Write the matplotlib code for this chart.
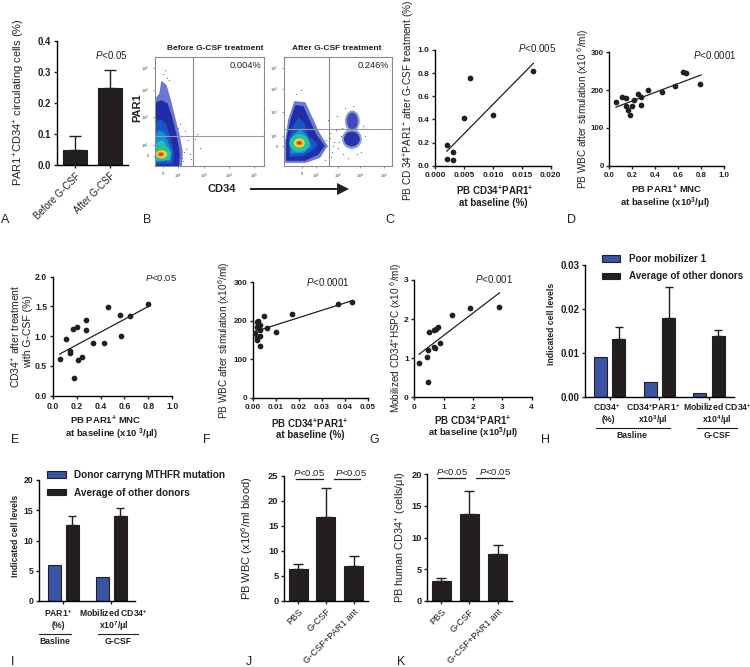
import matplotlib
matplotlib.use("Agg")
import matplotlib.pyplot as plt
from matplotlib.patches import Ellipse, Patch, Polygon
from matplotlib.lines import Line2D

plt.rcParams.update({
    'font.family': 'Liberation Sans', 'mathtext.fontset': 'custom',
    'mathtext.rm': 'Liberation Sans', 'mathtext.it': 'Liberation Sans:italic',
    'mathtext.bf': 'Liberation Sans:bold', 'mathtext.default': 'regular',
    'axes.linewidth': 1.0, 'xtick.major.width': 1.0, 'ytick.major.width': 1.0,
    'xtick.major.size': 2.5, 'ytick.major.size': 2.5, 'xtick.major.pad': 2, 'ytick.major.pad': 1.5,
})
W, H = 750, 667
BLACK, BLUE, TXT = '#231f20', '#3a53a4', '#231f20'

# ---- data ----
a_labels = ['Before G-CSF', 'After G-CSF']
a_vals = [0.05, 0.248]
a_tops = [0.093, 0.308]

c_x = [0.002, 0.002, 0.003, 0.003, 0.005, 0.006, 0.010, 0.017]
c_y = [0.18, 0.06, 0.115, 0.045, 0.415, 0.755, 0.435, 0.82]
c_fit_x, c_fit_y = [0.002, 0.017], [0.125, 0.885]

d_x = [.058, .108, .148, .142, .166, .177, .2, .212, .247, .279, .276, .334, .462, .57, .64, .672, .794]
d_y = [168, 183, 178, 159, 148, 135, 158, 174, 190, 181, 160, 199, 196, 212, 249, 244, 215]
d_fit_x, d_fit_y = [0.058, 0.8], [155, 240]

e_x = [.058, .109, .145, .148, .167, .178, .203, .212, .248, .281, .281, .334, .429, .465, .565, .574, .643, .8]
e_y = [.616, .947, .756, .717, 1.126, .297, 1.16, .6, .655, 1.266, 1.098, .88, .885, 1.496, 1.356, .997, 1.345, 1.535]
e_fit_x, e_fit_y = [0.058, 0.8], [0.7, 1.5]

f_x = [.001, .0019, .002, .002, .002, .0025, .003, .003, .003, .003, .005, .006, .01, .017, .037, .043]
f_y = [167, 196, 183, 159, 150, 199, 188, 176, 160, 135, 212, 181, 170, 217, 244, 250]
f_fit_x, f_fit_y = [0.001, 0.043], [172, 252]

g_x = [.16, .42, .455, .477, .489, .66, .67, .716, .75, .795, .875, 1.295, 1.886, 2.9]
g_y = [.87, 1.04, .38, 1.2, 1.66, 1.72, 1.29, 1.25, 1.75, 1.81, 1.4, 2.11, 2.28, 2.3]
g_fit_x, g_fit_y = [0.16, 2.9], [1.1, 2.67]

h_blue = [0.009, 0.0034, 0.001]
h_black = [0.0131, 0.018, 0.0138]
h_tops = [0.016, 0.025, 0.0152]

i_blue = [6, 4]
i_black = [12.5, 14]
i_tops = [14.1, 15.3]

jk_labels = ['PBS', 'G-CSF', 'G-CSF+PAR1 ant']
j_vals = [6.3, 16.7, 7.0]
j_tops = [7.3, 22.6, 8.9]
k_vals = [3.1, 13.8, 7.4]
k_tops = [3.7, 17.3, 8.8]

# flow density outlines (axis scale 0-109), lowest density first
flow_left_polys = [
    ('#6a78d4', [(0, 0), (26, 0), (27, 14), (24, 30), (19, 50), (15, 66), (11, 80), (7, 84), (5, 72), (0, 66)]),
    ('#1f2ea6', [(0, 0), (23, 0), (24, 12), (21, 30), (16, 50), (12, 62), (6, 65), (0, 62)]),
    ('#1a55c8', [(0, 3), (17, 3), (18, 14), (14, 30), (10, 42), (5, 46), (0, 42)]),
    ('#1090d8', [(0, 5), (15, 6), (16, 14), (12, 24), (9, 33), (4, 35), (0, 30)]),
    ('#20c0c0', [(1, 6), (14, 7), (15, 13), (10, 21), (7, 25), (3, 23), (1, 16)]),
]
flow_left_levels = [(7, 13, 14, 15, '#2fc47c'), (6.5, 11.7, 11, 8, '#e6e030'),
                    (6, 11.7, 7, 5, '#f08020'), (6, 11.7, 3.5, 2, '#e02020')]
flow_right_polys = [
    ('#6a78d4', [(2, 4), (22, 4), (36, 9), (43, 20), (35, 33), (28, 48), (21, 63), (11, 64), (5, 46), (2, 25)]),
    ('#1f2ea6', [(3, 6), (21, 6), (34, 12), (40, 20), (32, 31), (25, 46), (19, 59), (12, 60), (7, 45), (3, 25)]),
    ('#1a55c8', [(6, 10), (20, 11), (30, 17), (33, 22), (24, 30), (20, 42), (15, 47), (10, 40), (6, 28)]),
    ('#1090d8', [(8, 13), (20, 14), (27, 20), (22, 30), (17, 36), (11, 32), (8, 25)]),
]
flow_right_levels = [(69, 45, 15, 21, '#8f9be0'), (68.5, 27, 20, 20, '#8f9be0'),
                     (69, 45, 11, 17, '#3d4cb8'), (68.5, 27, 16, 15, '#2535aa'),
                     (15.5, 23, 20, 18, '#20c0c0'), (15.5, 23, 16, 13, '#2fc47c'),
                     (15.5, 23, 11, 9, '#e6e030'), (15.5, 23, 7, 5, '#f08020'), (15.5, 23, 3.5, 2.5, '#e02020')]
flow_left_x = [24, 26, 29, 33, 38, 42, 45, 27, 23, 35, 12, 8, 14, 10, 28, 31, 25, 30, 40, 36]
flow_left_y = [20, 30, 14, 26, 22, 32, 18, 8, 38, 12, 88, 92, 86, 96, 5, 17, 42, 35, 27, 7]
flow_right_x = [43, 46, 48, 50, 52, 55, 44, 47, 58, 60, 78, 80, 41, 53, 65, 76, 12, 17, 56, 49, 59, 82, 62, 70, 74, 46, 42]
flow_right_y = [20, 28, 14, 24, 36, 18, 46, 9, 30, 12, 14, 40, 6, 50, 8, 24, 72, 76, 24, 20, 38, 30, 58, 60, 12, 33, 26]
flow_left_xticks, flow_left_yticks = [8, 23, 49, 74, 99], [10, 21, 49, 76, 98]
flow_right_xticks, flow_right_yticks = [18, 32, 55, 77, 101], [20, 30, 54, 77, 98]
flow_labels = ['0', '10$^{1}$', '10$^{3}$', '10$^{4}$', '10$^{5}$']

fig = plt.figure(figsize=(W / 100, H / 100), dpi=100, facecolor='white')


def T(x, y, s, size=7.5, weight='normal', rot=0, ha='center', **kw):
    fig.text(x / W, 1 - y / H, s, fontsize=size, fontweight=weight, rotation=rot,
             ha=ha, va='center', color=TXT, **kw)


def L(x0, x1, y, lw=1.0):
    fig.add_artist(Line2D([x0 / W, x1 / W], [1 - y / H] * 2, color=TXT, lw=lw))


def AX(x0, x1, ytop, ybot):
    ax = fig.add_axes([x0 / W, 1 - ybot / H, (x1 - x0) / W, (ybot - ytop) / H])
    ax.patch.set_alpha(0)
    for s in ('top', 'right'):
        ax.spines[s].set_visible(False)
    return ax


def tick_style(ax, size=7.5):
    ax.tick_params(labelsize=size, colors=TXT)
    for t in ax.get_xticklabels() + ax.get_yticklabels():
        t.set_fontweight('bold')


def scatter_panel(rect, xs, ys, fx, fy, xlim, ylim, xt, yt, xfmt, yfmt, size=6):
    ax = AX(*rect)
    ax.plot(fx, fy, color=BLACK, lw=0.9, zorder=2)
    ax.scatter(xs, ys, s=17, color=BLACK, zorder=3, linewidths=0)
    ax.set_xlim(xlim)
    ax.set_ylim(ylim)
    ax.set_xticks(xt)
    ax.set_xticklabels([xfmt % v for v in xt])
    ax.set_yticks(yt)
    ax.set_yticklabels([yfmt % v for v in yt])
    tick_style(ax, size)
    return ax


def bars(ax, pos, vals, tops=None, color=BLACK, width=0.69, cap=3):
    ax.bar(pos, vals, width=width, color=color, edgecolor=BLACK, linewidth=0.8, zorder=2)
    if tops is not None:
        err = [[0] * len(vals), [t - v for t, v in zip(tops, vals)]]
        ax.errorbar(pos, vals, yerr=err, fmt='none', ecolor=BLACK, elinewidth=1.0,
                    capsize=cap, capthick=1.0, zorder=1)


# ---- A ----
ax = AX(57, 128, 41, 165)
bars(ax, range(2), a_vals, a_tops, cap=4)
ax.set_xlim(-.514, 1.514)
ax.set_ylim(0, 0.4)
ax.set_yticks([0, .1, .2, .3, .4])
ax.set_yticklabels(['0.0', '0.1', '0.2', '0.3', '0.4'])
ax.set_xticks(range(2))
ax.set_xticklabels(a_labels, rotation=45, ha='right', rotation_mode='anchor')
tick_style(ax, 6.9)
for t in ax.get_xticklabels():
    t.set_fontweight('normal')
T(19, 102, 'PAR1$^{+}$CD34$^{+}$ circulating cells (%)', 8, rot=90)
T(111, 55, '$\\mathit{P}$<0.05', 7)

# ---- B ----
for rect, polys, levels, px, py, gx, gy, xt, yt in [
        ((155, 264, 57, 166), flow_left_polys, flow_left_levels, flow_left_x, flow_left_y, 38, 30,
         flow_left_xticks, flow_left_yticks),
        ((284, 392, 57, 166), flow_right_polys, flow_right_levels, flow_right_x, flow_right_y, 45, 37,
         flow_right_xticks, flow_right_yticks)]:
    ax = fig.add_axes([rect[0] / W, 1 - rect[3] / H, (rect[1] - rect[0]) / W, (rect[3] - rect[2]) / H])
    ax.set_xlim(0, 109)
    ax.set_ylim(0, 109)
    for col, pts in polys:
        ax.add_patch(Polygon(pts, closed=True, fc=col, ec=col, lw=1.2, joinstyle='round'))
    for cx, cy, w, h, col in levels:
        ax.add_patch(Ellipse((cx, cy), w, h, color=col, lw=0))
    ax.scatter(px, py, s=0.9, color='#6a78d0', linewidths=0)
    ax.axvline(gx, color='#8a8a8a', lw=0.8)
    ax.axhline(gy, color='#9a9a9a', lw=0.8)
    for s in ax.spines.values():
        s.set_color('#8a8a8a')
        s.set_linewidth(0.8)
    ax.set_xticks(xt)
    ax.set_xticklabels(flow_labels)
    ax.set_yticks(yt)
    ax.set_yticklabels(flow_labels)
    ax.tick_params(labelsize=3, length=1.5, width=0.4, pad=2.5, colors='#444444')
T(215, 48, 'Before G-CSF treatment', 6, 'bold')
T(337, 48, 'After G-CSF treatment', 6, 'bold')
T(261, 66, '0.004%', 6.7, ha='right')
T(389, 66, '0.246%', 6.7, ha='right')
T(137, 108, 'PAR1', 8, 'bold', rot=90)
T(222, 189, 'CD34', 8, 'bold')
fig.add_artist(Line2D([251 / W, 340 / W], [1 - 189 / H] * 2, color=BLACK, lw=1.4))
fig.add_artist(Line2D([343 / W], [1 - 189 / H], marker='>', ms=9, color=BLACK, mew=0))

# ---- C ----
scatter_panel((435.3, 550.7, 50, 165.7), c_x, c_y, c_fit_x, c_fit_y, (0, .02), (0, 1),
              [0, .005, .01, .015, .02], [0, .2, .4, .6, .8, 1], '%.3f', '%.1f', 6)
T(409, 100, 'PB CD 34$^{+}$PAR1$^{+}$ after G-CSF treatment (%)', 7.2, rot=90)
T(537, 48, '$\\mathit{P}$<0.005', 7)
T(495, 190, 'PB CD34$^{+}$PAR1$^{+}$', 7, 'bold')
T(493, 203, 'at baseline (%)', 7, 'bold')

# ---- D ----
scatter_panel((609.3, 724, 52.3, 165.7), d_x, d_y, d_fit_x, d_fit_y, (0, 1), (0, 300),
              [0, .2, .4, .6, .8, 1], [0, 100, 200, 300], '%.1f', '%d', 5.7)
T(583, 109, 'PB WBC after stimulation (x10 $^{6}$/ml)', 7.2, rot=90)
T(715, 55, '$\\mathit{P}$<0.0001', 7)
T(667, 189, 'PB PAR1$^{+}$ MNC', 6.8, 'bold')
T(665, 203, 'at baseline (x10$^{3}$/μl)', 6.8, 'bold')

# ---- E ----
scatter_panel((52.7, 172.3, 276.7, 395.7), e_x, e_y, e_fit_x, e_fit_y, (0, 1), (0, 2),
              [0, .2, .4, .6, .8, 1], [0, .5, 1, 1.5, 2], '%.1f', '%.1f', 6.2)
T(16, 336, 'CD34$^{+}$ after treatment', 7.5, rot=90)
T(28, 332, 'with G-CSF (%)', 7.5, rot=90)
T(161, 278, '$\\mathit{P}$<0.05', 6.8)
T(106, 420, 'PB PAR1$^{+}$ MNC', 6.8, 'bold')
T(112, 434, 'at baseline (x10 $^{3}$/μl)', 6.8, 'bold')

# ---- F ----
scatter_panel((252.7, 368, 282.3, 397.7), f_x, f_y, f_fit_x, f_fit_y, (0, .05), (0, 300),
              [0, .01, .02, .03, .04, .05], [0, 100, 200, 300], '%.2f', '%d', 5.8)
T(224, 340, 'PB WBC after stimulation (x10$^{6}$/ml)', 7.2, rot=90)
T(328, 282, '$\\mathit{P}$<0.0001', 7)
T(310, 423, 'PB CD34$^{+}$PAR1$^{+}$', 7, 'bold')
T(310, 435, 'at baseline (%)', 7, 'bold')

# ---- G ----
scatter_panel((414.3, 531.7, 280, 397.3), g_x, g_y, g_fit_x, g_fit_y, (0, 4), (0, 3),
              [0, 1, 2, 3, 4], [0, 1, 2, 3], '%d', '%d', 6)
T(396, 338, 'Mobilized CD34$^{+}$HSPC (x10 $^{6}$/ml)', 7.2, rot=90)
T(494, 279, '$\\mathit{P}$<0.001', 7)
T(473, 420, 'PB CD34$^{+}$PAR1$^{+}$', 7, 'bold')
T(473, 433, 'at baseline (x10$^{5}$/μl)', 6.8, 'bold')

# ---- H ----
ax = AX(585, 734, 265, 397)
gp = [0, 1, 2]
bars(ax, [g - .187 for g in gp], h_blue, None, BLUE, .26)
bars(ax, [g + .187 for g in gp], h_black, h_tops, BLACK, .26, cap=3)
ax.set_xlim(-.495, 2.5)
ax.set_ylim(0, .03)
ax.set_yticks([0, .01, .02, .03])
ax.set_yticklabels(['0.00', '0.01', '0.02', '0.03'])
ax.set_xticks(gp)
ax.set_xticklabels([])
tick_style(ax, 7)
T(552, 324, 'Indicated cell levels', 6.2, 'bold', rot=90)
for x, y, s in [(607, 407, 'CD34$^{+}$'), (608, 420, '(%)'), (653, 407, 'CD34$^{+}$PAR1$^{+}$'),
                (653, 420, 'x10$^{3}$/μl'), (717, 407, 'Mobilized CD34$^{+}$'), (717, 420, 'x10$^{4}$/μl'),
                (632, 435, 'Basline'), (717, 435, 'G-CSF')]:
    T(x, y, s, 6.2, 'bold')
L(596, 670, 428, .8)
L(697, 737, 428, .8)
fig.legend(handles=[Patch(fc=BLUE, ec=BLACK, lw=.8), Patch(fc=BLACK, ec=BLACK, lw=.8)],
           labels=['Poor mobilizer 1', 'Average of other donors'], loc='upper left',
           bbox_to_anchor=(601.5 / W, 1 - 254 / H), frameon=False, borderpad=0, borderaxespad=0,
           handlelength=1.9, handleheight=.6, handletextpad=.85, labelspacing=.75,
           prop={'size': 7.1, 'weight': 'bold'}, labelcolor=TXT)

# ---- I ----
ax = AX(39, 135, 480, 601)
gp = [0, 1]
bars(ax, [g - .188 for g in gp], i_blue, None, BLUE, .265)
bars(ax, [g + .188 for g in gp], i_black, i_tops, BLACK, .265, cap=3)
ax.set_xlim(-.503, 1.49)
ax.set_ylim(0, 20)
ax.set_yticks([0, 5, 10, 15, 20])
ax.set_xticks(gp)
ax.set_xticklabels([])
tick_style(ax, 6.2)
T(16, 536, 'Indicated cell levels', 6.2, 'bold', rot=90)
for x, y, s in [(58, 613, 'PAR1$^{+}$'), (58, 626, '(%)'), (113, 613, 'Mobilized CD34$^{+}$'),
                (114, 626, 'x10$^{7}$/μl'), (55, 642, 'Basline'), (118, 642, 'G-CSF')]:
    T(x, y, s, 6.2, 'bold')
L(39, 71, 634, .8)
L(98, 138, 634, .8)
fig.legend(handles=[Patch(fc=BLUE, ec=BLACK, lw=.8), Patch(fc=BLACK, ec=BLACK, lw=.8)],
           labels=['Donor carryng MTHFR mutation', 'Average of other donors'], loc='upper left',
           bbox_to_anchor=(47 / W, 1 - 470 / H), frameon=False, borderpad=0, borderaxespad=0,
           handlelength=1.9, handleheight=.6, handletextpad=.85, labelspacing=.75,
           prop={'size': 7.2, 'weight': 'bold'}, labelcolor=TXT)

# ---- J ----
ax = AX(284, 368, 475.7, 600.7)
bars(ax, range(3), j_vals, j_tops, cap=3.5)
ax.set_xlim(-.514, 2.52)
ax.set_ylim(0, 25)
ax.set_yticks([0, 5, 10, 15, 20, 25])
ax.set_xticks(range(3))
ax.set_xticklabels(jk_labels, rotation=45, ha='right', rotation_mode='anchor')
tick_style(ax, 6.7)
for t in ax.get_xticklabels():
    t.set_fontweight('normal')
T(247, 538, 'PB WBC (x10$^{6}$/ml blood)', 8, rot=90)
T(309, 473, '$\\mathit{P}$<0.05', 6.8)
T(351, 473, '$\\mathit{P}$<0.05', 6.8)
L(296, 323, 479, .9)
L(334, 360, 479, .9)

# ---- K ----
ax = AX(427.3, 511.7, 474.3, 601)
bars(ax, range(3), k_vals, k_tops, cap=3.5)
ax.set_xlim(-.497, 2.5)
ax.set_ylim(0, 20)
ax.set_yticks([0, 5, 10, 15, 20])
ax.set_xticks(range(3))
ax.set_xticklabels(jk_labels, rotation=45, ha='right', rotation_mode='anchor')
tick_style(ax, 6.7)
for t in ax.get_xticklabels():
    t.set_fontweight('normal')
T(401, 537, 'PB human CD34$^{+}$ (cells/μl)', 7.8, rot=90)
T(452, 472, '$\\mathit{P}$<0.05', 6.8)
T(495, 472, '$\\mathit{P}$<0.05', 6.8)
L(438, 465, 478, .9)
L(476, 504, 478, .9)

# ---- panel letters ----
for x, y, s in [(5, 220, 'A'), (147, 220, 'B'), (390, 220, 'C'), (571, 220, 'D'), (15, 440, 'E'),
                (207, 440, 'F'), (374, 440, 'G'), (545, 440, 'H'), (13, 662, 'I'), (249, 662, 'J'), (401, 662, 'K')]:
    T(x, y, s, 9)

fig.savefig('out.png', dpi=100, facecolor='white')
